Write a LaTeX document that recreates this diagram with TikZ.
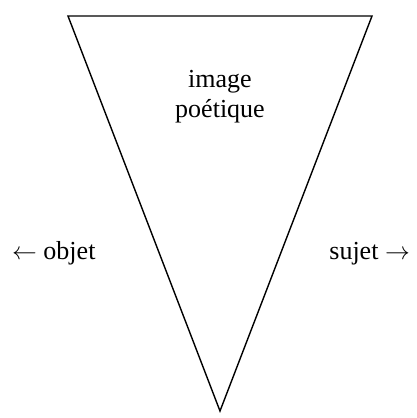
\documentclass[tikz,border=0pt]{standalone}
\usepackage{fontspec}
\setmainfont{Liberation Serif}
\begin{document}
\begin{tikzpicture}[x=1bp,y=-1bp,
  lbl/.style={font=\fontsize{26bp}{30bp}\selectfont, inner sep=0pt},
  edge/.style={line width=1.4bp, line join=miter}]
\useasboundingbox (0,0) rectangle (417,418);
\coordinate (tl) at (68,16);
\coordinate (tr) at (372,16);
\coordinate (bt) at (220,411);
\draw[edge] (tl) -- (tr) -- (bt) -- cycle;
\node[lbl, align=center] (img) at (220,97) {image\\po\'etique};
\node[lbl, anchor=base west] (obj) at (12,259) {$\leftarrow$ objet};
\node[lbl, anchor=base east] (suj) at (410,259) {sujet $\rightarrow$};
\end{tikzpicture}
\end{document}
